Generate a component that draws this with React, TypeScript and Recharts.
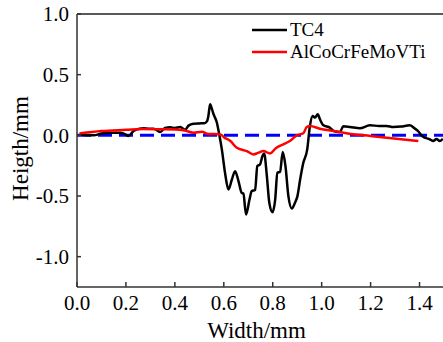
import React from 'react';
import { LineChart, Line, XAxis, YAxis, ReferenceLine, Legend } from 'recharts';

const FONT = "'Liberation Serif', 'DejaVu Serif', serif";

const xTicks = [0, 0.2, 0.4, 0.6, 0.8, 1.0, 1.2, 1.4];
const yTicks = [-1.0, -0.5, 0, 0.5, 1.0];
const seriesNames = ['TC4', 'AlCoCrFeMoVTi'];
const seriesColors = ['#000000', '#ff0000'];

// TC4 profile (mm)
const tc4Width = [
  0.014, 0.04, 0.068, 0.1, 0.136, 0.177, 0.195, 0.211, 0.231, 0.255, 0.272, 0.295, 0.313, 0.34, 0.36,
  0.381, 0.4, 0.422, 0.442, 0.456, 0.476, 0.5, 0.52, 0.531, 0.537, 0.544, 0.551, 0.558, 0.571, 0.582,
  0.592, 0.605, 0.619, 0.633, 0.646, 0.66, 0.673, 0.68, 0.691, 0.705, 0.714, 0.728, 0.737, 0.748,
  0.758, 0.765, 0.776, 0.786, 0.799, 0.81, 0.819, 0.83, 0.841, 0.852, 0.864, 0.878, 0.891, 0.901,
  0.912, 0.925, 0.941, 0.952, 0.963, 0.973, 0.984, 0.993, 1.007, 1.034, 1.048, 1.061, 1.075, 1.088,
  1.116, 1.156, 1.197, 1.235, 1.265, 1.293, 1.325, 1.36, 1.378, 1.393, 1.41, 1.442, 1.456, 1.469,
  1.483, 1.495,
];
const tc4Height = [
  0.008, 0.0, 0.0, 0.015, 0.022, 0.022, 0.01, -0.006, 0.036, 0.055, 0.058, 0.055, 0.055, 0.028, 0.06,
  0.066, 0.06, 0.069, 0.045, 0.08, 0.095, 0.098, 0.1, 0.115, 0.16, 0.256, 0.22, 0.174, 0.11, 0.0,
  -0.116, -0.309, -0.446, -0.364, -0.295, -0.377, -0.474, -0.48, -0.653, -0.529, -0.46, -0.45, -0.253,
  -0.24, -0.171, -0.149, -0.336, -0.556, -0.634, -0.529, -0.309, -0.3, -0.138, -0.253, -0.501, -0.603,
  -0.556, -0.501, -0.364, -0.226, -0.116, 0.077, 0.16, 0.146, 0.174, 0.132, 0.083, 0.063, 0.036, 0.03,
  0.028, 0.075, 0.069, 0.058, 0.083, 0.077, 0.077, 0.068, 0.072, 0.083, 0.06, 0.036, -0.005, -0.033,
  -0.047, -0.03, -0.047, -0.028,
];

// AlCoCrFeMoVTi coating profile (mm)
const alloyWidth = [
  0.01, 0.1, 0.2, 0.27, 0.34, 0.4, 0.44, 0.476, 0.51, 0.537, 0.56, 0.586, 0.6, 0.627, 0.653, 0.694,
  0.721, 0.74, 0.762, 0.789, 0.815, 0.843, 0.87, 0.898, 0.925, 0.939, 0.952, 0.993, 1.05, 1.128, 1.2,
  1.266, 1.395,
];
const alloyHeight = [
  0.015, 0.035, 0.045, 0.052, 0.05, 0.048, 0.04, 0.022, 0.03, 0.01, 0.012, 0.008, -0.015, -0.047,
  -0.102, -0.13, -0.157, -0.145, -0.13, -0.149, -0.102, -0.074, -0.047, 0.0, 0.017, 0.069, 0.077, 0.055,
  0.036, 0.008, -0.005, -0.02, -0.047,
];

const tc4Data = tc4Width.map((w, i) => ({ width: w, height: tc4Height[i] }));
const alloyData = alloyWidth.map((w, i) => ({ width: w, height: alloyHeight[i] }));

const LegendContent = () => (
  <div style={{ fontFamily: FONT, fontSize: 19, color: '#000', lineHeight: '22px' }}>
    {seriesNames.map((name, i) => (
      <div key={name} style={{ display: 'flex', alignItems: 'center', height: 22 }}>
        <svg width={35} height={6} style={{ marginRight: 3 }}>
          <line x1={0} y1={3} x2={35} y2={3} stroke={seriesColors[i]} strokeWidth={2.5} />
        </svg>
        <span>{name}</span>
      </div>
    ))}
  </div>
);

const App: React.FC = () => {
  return (
    <div
      style={{
        position: 'absolute',
        left: 0,
        top: 0,
        width: 443,
        height: 342,
        overflow: 'hidden',
        background: '#fff',
        fontFamily: FONT,
      }}
    >
      <LineChart width={450} height={342} margin={{ top: 14, right: 6, left: 0, bottom: 0 }} style={{ fontFamily: FONT }}>
        <XAxis
          dataKey="width"
          type="number"
          domain={[0, 1.5]}
          ticks={xTicks}
          interval={0}
          allowDataOverflow
          height={55}
          stroke="#333"
          strokeWidth={1.5}
          tickSize={-5}
          tickMargin={13}
          tickFormatter={(v: number) => v.toFixed(1)}
          tick={{ fontSize: 21, fill: '#000', fontFamily: FONT }}
          label={{ value: 'Width/mm', position: 'insideBottom', offset: 4, dx: -4, fontSize: 23, fill: '#000', fontFamily: FONT }}
        />
        <YAxis
          type="number"
          domain={[-1.25, 1.0]}
          ticks={yTicks}
          interval={0}
          allowDataOverflow
          width={77}
          stroke="#333"
          strokeWidth={1.5}
          tickSize={-4}
          tickMargin={12}
          tickFormatter={(v: number) => v.toFixed(1)}
          tick={{ fontSize: 21, fill: '#000', fontFamily: FONT }}
          label={{ value: 'Heigth/mm', angle: -90, position: 'center', dx: -19, dy: -2, fontSize: 23, fill: '#000', fontFamily: FONT }}
        />
        <ReferenceLine y={1.0} stroke="#222" strokeWidth={1.5} />
        <ReferenceLine y={0} stroke="#0000ff" strokeWidth={3} strokeDasharray="14 7" />
        <Legend
          layout="vertical"
          align="center"
          verticalAlign="middle"
          content={<LegendContent />}
          wrapperStyle={{ left: 252, top: 19, width: 'auto' }}
        />
        <Line
          data={tc4Data}
          dataKey="height"
          name={seriesNames[0]}
          type="monotone"
          stroke={seriesColors[0]}
          strokeWidth={2.5}
          dot={false}
          isAnimationActive={false}
        />
        <Line
          data={alloyData}
          dataKey="height"
          name={seriesNames[1]}
          type="monotone"
          stroke={seriesColors[1]}
          strokeWidth={2.5}
          dot={false}
          isAnimationActive={false}
        />
      </LineChart>
    </div>
  );
};

export default App;
